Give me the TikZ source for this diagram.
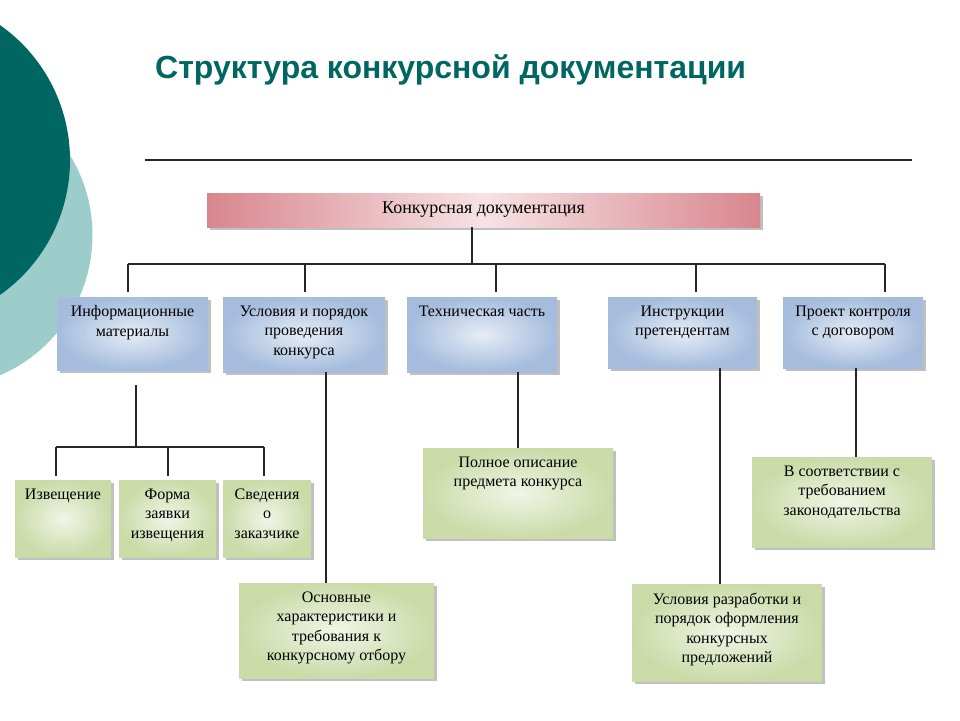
\documentclass[tikz,border=0pt]{standalone}
\usepackage{fontspec}
\setmainfont{Liberation Serif}
\newfontfamily\titlefont{Liberation Sans}
\usetikzlibrary{shadows}
\definecolor{tealdark}{HTML}{006661}
\definecolor{teallight}{HTML}{9DCDCB}
\definecolor{bluedark}{HTML}{A5BCDD}
\definecolor{bluelight}{HTML}{E6EDF6}
\definecolor{greendark}{HTML}{CADBA8}
\definecolor{greenlight}{HTML}{F1F5E7}
\definecolor{pinkdark}{HTML}{D8868E}
\definecolor{pinklight}{HTML}{F6E2E4}
\definecolor{linegray}{HTML}{262626}
\newcommand{\boxfont}{\fontsize{16}{19.5}\selectfont}
\tikzset{blk/.style 2 args={inner sep=0pt, outer sep=0pt, anchor=north west,
        minimum width=#1pt, minimum height=#2pt,
        drop shadow={shadow xshift=2.5pt, shadow yshift=-2.5pt, fill=black!55, opacity=.45}},
    bluebox/.style={shading=radial, inner color=bluelight, outer color=bluedark},
    greenbox/.style={shading=radial, inner color=greenlight, outer color=greendark},
    pinkbox/.style={left color=pinkdark, right color=pinkdark, middle color=pinklight},
    cap/.style={label={[anchor=north, yshift=-8.5pt, inner sep=0pt, align=center, font=\boxfont]north:{#1}}},
    link/.style={draw=linegray, line width=1.2pt},
    }

\begin{document}
\begin{tikzpicture}[x=1pt,y=-1pt]
\useasboundingbox (0,0) rectangle (960,720);
\begin{scope}
    \clip (0,0) rectangle (960,720);
    \fill[teallight] (-60,235) circle[radius=152.5];
    \fill[tealdark] (-95,160) circle[radius=165];
\end{scope}
\node[anchor=base west, inner sep=0pt, text=tealdark,
    font=\titlefont\bfseries\fontsize{32}{38}\selectfont] (title) at (155,78)
    {Структура конкурсной документации};
\draw[line width=2pt, draw=linegray] (145,160) -- (912,160);
% level 0 and 1
\node[blk={553}{34}, pinkbox, font=\fontsize{18}{20}\selectfont] (top) at (207,193) {Конкурсная документация};
\node[blk={151}{73}, bluebox, cap={Информационные\\материалы}] (info) at (57,297) {};
\node[blk={162}{75}, bluebox, cap={Условия и порядок\\проведения\\конкурса}] (usl) at (223,297) {};
\node[blk={150}{75}, bluebox, cap={Техническая часть}] (tech) at (407,297) {};
\node[blk={149}{71}, bluebox, cap={Инструкции\\претендентам}] (instr) at (608,297) {};
\node[blk={140}{71}, bluebox, cap={Проект контроля\\с договором}] (proekt) at (783,297) {};
% level 2
\node[blk={96}{77}, greenbox, cap={Извещение}] (izv) at (15,480) {};
\node[blk={97}{77}, greenbox, cap={Форма\\заявки\\извещения}] (forma) at (119,480) {};
\node[blk={88}{77}, greenbox, cap={Сведения\\о\\заказчике}] (sved) at (223,480) {};
\node[blk={190}{90}, greenbox, cap={Полное описание\\предмета конкурса}] (poln) at (423,448) {};
\node[blk={180}{90}, greenbox, cap={В соответствии с\\требованием\\законодательства}] (vsoot) at (752,457) {};
\node[blk={195}{95}, greenbox, cap={Основные\\характеристики и\\требования к\\конкурсному отбору}] (osn) at (239,583) {};
\node[blk={190}{97}, greenbox, cap={Условия разработки и\\порядок оформления\\конкурсных\\предложений}] (uslr) at (632,584) {};
% connectors
\coordinate (bus) at (472,264);
\path (top.south) ++(-11.5,0) coordinate (t0);
\draw[link] (t0) -- (t0 |- bus);
\foreach \n/\dx in {info/-4.5,usl/1,tech/14,instr/13.5,proekt/32}{
    \path (\n.north) ++(\dx,-5) coordinate (d\n);
    \draw[link] (d\n) -- (d\n |- bus);
}
\draw[link] (dinfo |- bus) -- (dproekt |- bus);
\path (info.south) ++(3.5,15) coordinate (s0) ++(0,62) coordinate (sub);
\draw[link] (s0) -- (sub);
\foreach \n/\dx in {izv/-7,forma/0.5,sved/-3}{
    \path (\n.north) ++(\dx,-4) coordinate (d\n);
    \draw[link] (d\n) -- (d\n |- sub);
}
\draw[link] (dizv |- sub) -- (dsved |- sub);
\path (usl.south) ++(22,0) coordinate (u0);
\draw[link] (u0) -- (u0 |- osn.north);
\draw[link] (poln.north) -- (poln.north |- tech.south);
\path (uslr.north) ++(-7,0) coordinate (r0);
\draw[link] (r0) -- (r0 |- instr.south);
\path (proekt.south) ++(3,0) coordinate (p0);
\draw[link] (p0) -- (p0 |- vsoot.north);
\end{tikzpicture}
\end{document}
